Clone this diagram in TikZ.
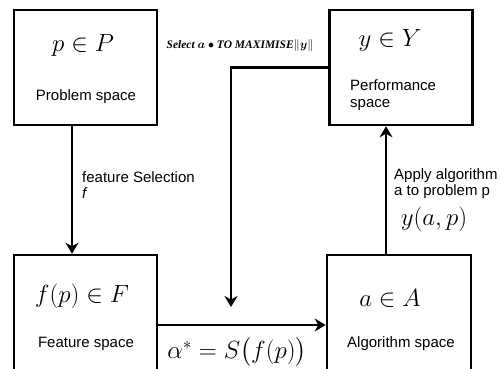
\documentclass[tikz,border=0pt]{standalone}
\usepackage{fontspec}
\usepackage{amsmath}
\usepackage{amssymb}
\setmainfont{Liberation Sans}
\newfontfamily\notefont{Liberation Serif}
\usetikzlibrary{arrows.meta,positioning,calc}

\tikzset{
    space/.style={draw, line width=2.6pt, rectangle, minimum width=143pt, minimum height=115pt},
    flow/.style={line width=2.2pt, -{Stealth[length=11pt,width=13pt]}},
    maths/.style={font=\fontsize{27}{30}\selectfont},
    caption/.style={font=\fontsize{15}{17}\selectfont, align=left},
    label/.style={font=\fontsize{15}{16}\selectfont, align=left, inner sep=0pt}
}

\begin{document}
\begin{tikzpicture}[x=1pt, y=1pt]

    \useasboundingbox (0,0) rectangle (501,369);
    \clip (0,0) rectangle (501,369);

    % Spaces
    \node[space] (problem) at (85.5,301.5) {};
    \node[space] (perf) at (401,301.5) {};
    \node[space, minimum height=140pt] (feature) at (85.5,44) {};
    \node[space, minimum width=144pt, minimum height=140pt] (algo) at (399,44) {};

    % Contents of the spaces
    \node[maths] (pmath) at (83,324) {$p \in P$};
    \node[caption] (ptext) at (86,272) {Problem space};
    \node[maths] (ymath) at (390,329) {$y \in Y$};
    \node[caption, anchor=west, inner sep=0pt] (ytext) at (350,274) {Performance\\space};
    \node[maths, font=\fontsize{28}{30}\selectfont] (fmath) at (82,73) {$f(p) \in F$};
    \node[caption] (ftext) at (86,25) {Feature space};
    \node[maths] (amath) at (390,71) {$a \in A$};
    \node[caption] (atext) at (401,25) {Algorithm space};

    % Relationships
    \draw[flow] ([xshift=-13.5pt]problem.south) -- ([xshift=-13.5pt]feature.north);
    \draw[flow] (feature.east) -- (algo.west);
    \draw[flow] ([xshift=-13pt]algo.north) -- ([xshift=-13pt]algo.north |- perf.south);
    \coordinate (drop) at (231,62);
    \draw[flow] (perf.west) -| (drop);

    % Labels
    \node[label, anchor=north west] (fsel) at (82,198) {feature Selection\\\textit{f}};
    \node[label, anchor=north west] (apply) at (394,201) {Apply algorithm\\a to problem p};
    \node[maths, font=\fontsize{23}{25}\selectfont] (yap) at (434,150) {$y(a,p)$};
    \node[maths, font=\fontsize{24}{26}\selectfont] (alpha) at (237,17) {$\alpha^{*} = S\bigl(f(p)\bigr)$};
    \node[font=\notefont\bfseries\itshape\fontsize{11.5}{13}\selectfont, inner sep=0pt] (select) at (240,323)
        {Select $\boldsymbol{a}$ $\bullet$ TO MAXIMISE$\|\boldsymbol{y}\|$};

\end{tikzpicture}
\end{document}
